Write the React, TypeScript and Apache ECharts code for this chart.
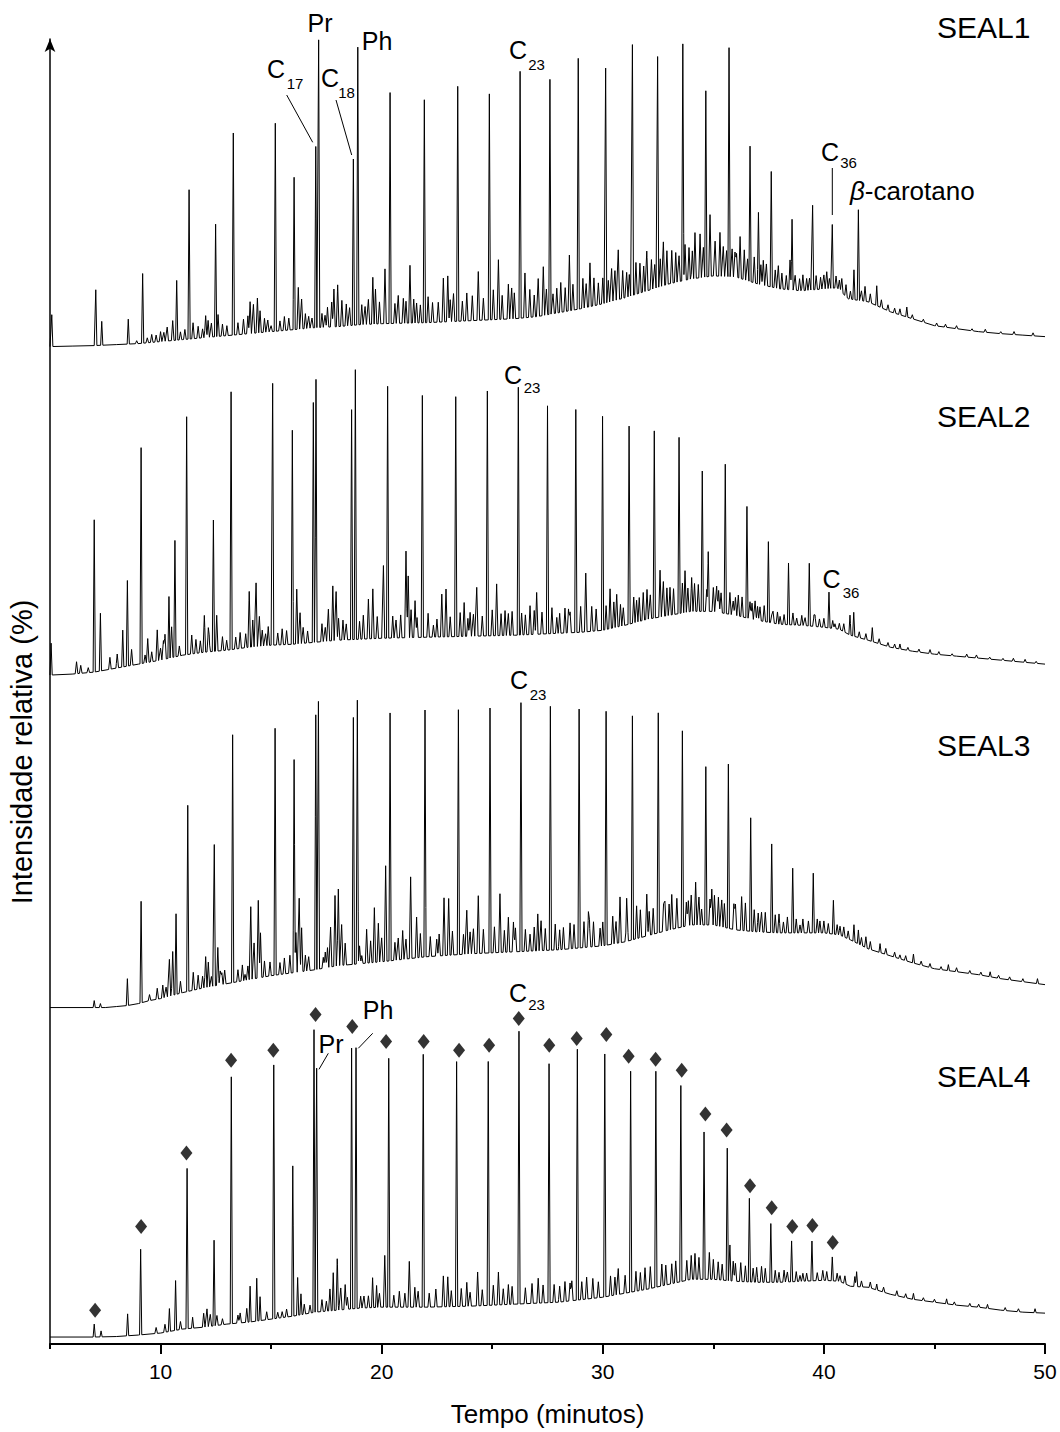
import React, { useEffect, useRef } from "react";
import * as echarts from "echarts";

const FONT = "'Liberation Sans', Arial, Helvetica, sans-serif";

// ---------- axis ----------
const xMin = 5;
const xMax = 50;
const majorTicks = [10, 20, 30, 40, 50];
const minorTicks = [5, 15, 25, 35, 45];

// ---------- traces (time in minutes, intensity in arbitrary units) ----------
const traceNames = ["SEAL1", "SEAL2", "SEAL3", "SEAL4"];
const traceOffsets = [1002, 672, 338, 7];

// SEAL1
const seal1Baseline = [
  [5, 0], [6, 0.5], [7, 1], [8, 2], [9, 3], [10, 5], [11, 7], [12, 9], [13, 11], [14, 13], [15, 15],
  [16, 17], [17, 19], [18, 20], [19, 22], [20, 23], [22, 24], [24, 26], [26, 28], [27, 30], [28, 34],
  [29, 38], [30, 43], [31, 49], [32, 56], [33, 63], [34, 68], [35, 71], [36, 70], [37, 63], [38, 58],
  [39, 56], [40, 58], [40.6, 59], [41.1, 48], [42, 45], [43, 35], [44, 28], [45, 21], [46, 18], [47, 15],
  [48, 13], [49, 11.5], [50, 10],
];
const seal1Peaks = [
  [5.08, 32], [7.07, 56], [7.34, 24], [8.54, 25], [9.19, 70], [10.73, 60], [11.29, 150], [12.49, 113],
  [13.29, 203], [15.19, 209], [16.04, 153], [17.02, 182], [17.15, 289], [18.72, 167], [18.92, 279],
  [20.38, 232], [21.93, 224], [23.44, 236], [24.87, 227], [26.26, 248], [27.61, 236], [28.89, 252],
  [30.13, 236], [31.34, 252], [32.48, 232], [33.62, 238], [34.66, 187], [35.71, 230], [36.66, 136],
  [37.04, 72], [37.62, 116], [38.56, 71], [39.49, 85], [40.38, 64], [41.36, 30], [41.56, 91],
  [42.39, 20], [43.75, 10],
];
const seal1Noise = [
  [8.92, 3], [9.6, 8], [10.0, 10], [10.3, 14], [10.55, 20], [11.47, 16], [12.04, 22], [12.15, 17],
  [12.6, 22], [12.8, 12], [14.05, 32], [14.2, 29], [14.38, 35], [14.5, 22], [15.0, 6], [16.23, 42],
  [16.38, 30], [17.44, 12], [17.74, 25], [17.84, 38], [18.01, 42], [18.2, 26], [19.25, 18], [19.6, 47],
  [19.72, 35], [20.15, 55], [20.98, 25], [21.28, 58], [21.58, 20], [22.56, 20], [22.79, 44], [22.99, 46],
  [23.85, 28], [24.37, 49], [25.28, 60], [25.73, 35], [25.88, 31], [26.48, 45], [27.08, 38], [27.31, 49],
  [27.92, 25], [28.49, 56], [29.42, 44], [29.8, 22], [30.4, 33], [30.7, 50], [31.08, 25], [31.68, 30],
  [31.99, 40], [32.74, 44], [33.12, 33], [33.72, 36], [34.17, 46], [34.4, 44], [34.85, 62], [35.08, 35],
  [35.3, 44], [35.98, 25], [36.21, 42], [37.26, 25], [37.94, 23], [38.47, 30], [39.22, 12], [40.13, 17],
  [40.81, 14], [41.86, 15], [43.44, 6], [45.1, 3], [49.46, 3],
];
const seal1Grass = [
  [9.4, 5], [9.8, 7], [10.15, 9], [10.9, 8], [11.1, 10], [11.7, 12], [11.9, 9], [12.3, 14], [13.0, 10],
  [13.5, 12], [13.75, 15], [13.95, 18], [14.7, 14], [14.85, 12], [15.4, 10], [15.6, 14], [15.8, 12],
  [16.55, 15], [16.7, 12], [16.85, 10], [17.3, 14], [17.55, 20], [18.4, 22], [18.55, 18], [19.1, 20],
  [19.4, 25], [19.9, 22], [20.6, 20], [20.75, 28], [21.1, 22], [21.45, 24], [21.75, 18], [22.1, 26],
  [22.3, 20], [23.1, 22], [23.25, 28], [23.65, 20], [24.1, 25], [24.6, 22], [25.05, 30], [25.45, 24],
  [26.0, 26], [26.7, 28], [26.9, 22], [27.45, 26], [27.75, 20], [28.1, 30], [28.3, 24], [28.65, 26],
  [29.1, 30], [29.25, 24], [29.6, 28], [30.0, 26], [30.25, 22], [30.55, 30], [30.9, 28], [31.2, 22],
  [31.5, 32], [31.85, 26], [32.2, 30], [32.35, 24], [32.6, 28], [32.9, 34], [33.3, 30], [33.45, 26],
  [33.9, 32], [34.05, 28], [34.55, 30], [35.45, 30], [35.6, 26], [35.85, 28], [36.05, 24], [36.4, 30],
  [36.55, 22], [36.85, 26], [37.15, 20], [37.4, 22], [37.8, 18], [38.1, 16], [38.3, 14], [38.7, 15],
  [38.9, 12], [39.05, 16], [39.35, 12], [39.65, 14], [39.85, 12], [40.0, 14], [40.25, 10], [40.55, 12],
  [40.7, 10], [41.0, 12], [41.2, 8], [41.7, 10], [42.1, 9], [42.6, 8], [42.9, 6], [43.2, 5], [44.0, 4],
  [44.5, 3], [45.5, 3], [46.0, 3], [46.7, 2], [47.3, 3], [48.0, 2], [48.6, 3],
];

// SEAL2
const seal2Baseline = [
  [5, 0], [6, 1], [7, 3], [8, 7], [9, 11], [10, 15], [11, 20], [12, 23], [13, 25], [14, 28], [15, 30],
  [16, 31], [17, 33], [18, 35], [19, 36], [20, 37], [22, 38], [24, 39], [26, 40], [28, 42], [29, 43],
  [30, 45], [31, 50], [32, 56], [33, 60], [34, 64], [35, 64], [36, 60], [37, 55], [38, 51], [39, 50],
  [40, 48], [40.7, 46], [41.2, 40], [42, 35], [43, 28], [44, 24], [45, 21], [46, 19], [47, 17], [48, 15],
  [49, 13], [50, 11],
];
const seal2Peaks = [
  [5.05, 32], [7.0, 153], [7.28, 58], [8.29, 37], [8.5, 86], [9.12, 217], [10.38, 62], [10.65, 117],
  [11.18, 239], [12.39, 132], [13.19, 259], [15.07, 263], [15.96, 215], [16.91, 241], [17.03, 264],
  [18.64, 231], [18.81, 271], [20.27, 253], [21.84, 243], [23.35, 241], [24.78, 246], [26.18, 249],
  [27.5, 229], [28.78, 224], [29.99, 215], [31.19, 199], [32.33, 188], [33.45, 177], [34.5, 141],
  [34.77, 60], [35.54, 150], [36.52, 112], [37.49, 81], [38.4, 62], [39.34, 63], [40.23, 36],
  [41.18, 20], [41.35, 24], [42.19, 14], [43.44, 5],
];
const seal2Noise = [
  [6.2, 12], [6.39, 8], [6.73, 5], [7.71, 12], [8.04, 14], [8.69, 16], [9.42, 24], [9.85, 31], [10.13, 19],
  [10.2, 25], [10.5, 31], [11.41, 19], [11.98, 37], [12.16, 21], [12.54, 36], [12.99, 10], [14.01, 56],
  [14.17, 27], [14.32, 64], [14.47, 30], [14.87, 19], [16.16, 55], [16.31, 31], [17.59, 32], [17.79, 55],
  [17.94, 49], [18.05, 22], [19.17, 24], [19.4, 40], [19.6, 50], [20.08, 73], [20.86, 23], [21.1, 87],
  [21.2, 62], [21.33, 28], [21.51, 37], [22.34, 12], [22.72, 43], [22.91, 48], [23.73, 34], [24.0, 24],
  [24.3, 49], [25.2, 52], [25.58, 25], [25.73, 22], [26.33, 22], [26.71, 29], [27.01, 42], [27.92, 16],
  [28.29, 25], [28.52, 21], [29.23, 59], [29.5, 25], [30.33, 40], [30.63, 33], [30.93, 18], [31.53, 22],
  [31.83, 28], [32.59, 47], [32.74, 35], [33.04, 28], [33.72, 42], [34.02, 34], [34.32, 27], [35.0, 24],
  [35.24, 22], [35.9, 14], [36.13, 21], [36.66, 17], [36.89, 19], [37.11, 14], [37.64, 8], [38.02, 8],
  [38.77, 7], [39.6, 10], [40.5, 5], [44.8, 4], [46.46, 3], [46.9, 3], [48.57, 3], [49.1, 3],
];
const seal2Grass = [
  [9.3, 8], [9.6, 10], [10.0, 12], [10.85, 10], [11.6, 14], [11.8, 12], [12.2, 10], [12.8, 14], [13.4, 12],
  [13.6, 16], [13.85, 14], [14.6, 16], [14.75, 12], [15.3, 12], [15.5, 16], [15.7, 14], [16.45, 16],
  [16.65, 12], [17.3, 18], [17.45, 14], [18.25, 20], [18.4, 16], [19.0, 18], [19.8, 22], [20.5, 22],
  [20.65, 18], [21.6, 20], [22.1, 24], [22.5, 18], [23.1, 20], [23.55, 24], [23.9, 18], [24.15, 22],
  [24.55, 20], [25.0, 26], [25.4, 22], [25.9, 24], [26.5, 20], [26.9, 24], [27.25, 22], [27.7, 26],
  [28.05, 20], [28.45, 24], [29.0, 26], [29.7, 22], [30.15, 24], [30.5, 26], [30.8, 22], [31.4, 26],
  [31.65, 24], [32.0, 30], [32.15, 24], [32.9, 28], [33.2, 26], [33.6, 30], [33.85, 24], [34.15, 28],
  [34.7, 22], [35.15, 26], [35.35, 20], [35.75, 22], [36.0, 18], [36.3, 20], [36.75, 16], [37.0, 14],
  [37.3, 16], [37.7, 12], [37.9, 12], [38.2, 10], [38.6, 12], [39.0, 10], [39.15, 8], [39.55, 10],
  [39.8, 8], [40.0, 9], [40.4, 8], [40.7, 6], [40.9, 8], [41.6, 6], [41.9, 6], [42.5, 5], [42.9, 4],
  [43.2, 4], [43.8, 3], [44.3, 3], [45.2, 3], [45.8, 2], [47.5, 2], [48.1, 2], [49.6, 2],
];

// SEAL3
const seal3Baseline = [
  [5, 0], [7.5, 0], [8, 1], [8.5, 2], [9, 4], [9.5, 7], [10, 9], [10.5, 12], [11, 15], [12, 20], [13, 24],
  [14, 28], [15, 32], [16, 35], [17, 38], [18, 42], [19, 44], [20, 46], [22, 51], [24, 54], [26, 56],
  [28, 58], [30, 62], [31, 66], [32, 72], [33, 78], [34, 83], [35, 83], [36, 78], [37, 76], [38, 75],
  [39, 75], [40, 75], [40.7, 73], [41.2, 68], [42, 59], [43, 52], [44, 45], [45, 39], [46, 36], [47, 33],
  [48, 29], [49, 26], [50, 23],
];
const seal3Peaks = [
  [7.0, 7], [7.28, 4], [8.5, 27], [9.12, 102], [10.7, 81], [11.23, 187], [12.43, 142], [13.26, 249],
  [15.18, 248], [16.04, 214], [17.02, 256], [17.14, 269], [18.72, 248], [18.9, 265], [20.38, 249],
  [21.96, 248], [23.47, 246], [24.9, 246], [26.3, 250], [27.63, 245], [28.93, 240], [30.15, 235],
  [31.34, 225], [32.51, 221], [33.6, 197], [34.66, 159], [35.68, 165], [36.69, 114], [37.64, 89],
  [38.59, 65], [39.52, 60], [40.43, 34], [41.36, 17], [41.56, 14], [42.54, 9], [44.05, 9], [45.63, 6],
  [47.52, 5], [49.66, 5],
];
const seal3Noise = [
  [9.85, 11], [10.1, 13], [10.4, 37], [10.55, 44], [11.48, 18], [12.04, 31], [12.16, 25], [12.59, 38],
  [12.77, 12], [12.9, 14], [13.82, 6], [14.08, 73], [14.23, 36], [14.42, 78], [14.52, 45], [14.95, 14],
  [15.85, 18], [16.12, 40], [16.27, 74], [16.38, 44], [17.36, 11], [17.69, 40], [17.89, 71], [18.04, 77],
  [18.19, 41], [19.1, 8], [19.32, 34], [19.67, 55], [19.85, 39], [20.18, 96], [20.6, 18], [20.95, 29],
  [21.31, 82], [21.58, 41], [22.49, 17], [22.82, 58], [23.03, 57], [23.85, 44], [24.15, 25], [24.37, 58],
  [25.35, 59], [25.73, 35], [25.96, 30], [26.71, 17], [27.06, 37], [27.21, 30], [28.22, 22], [28.52, 26],
  [29.35, 32], [29.58, 25], [29.88, 18], [30.78, 46], [31.08, 26], [31.53, 33], [31.99, 42], [32.28, 26],
  [32.81, 30], [33.12, 35], [33.87, 25], [34.2, 43], [34.47, 16], [34.93, 36], [35.23, 29], [35.38, 27],
  [35.93, 26], [36.28, 34], [37.03, 19], [37.18, 20], [37.97, 19], [38.17, 11], [38.92, 8], [39.82, 12],
  [40.2, 10], [40.73, 9], [41.9, 11], [43.44, 4],
];
const seal3Grass = [
  [9.5, 6], [10.25, 10], [10.9, 12], [11.7, 14], [11.9, 12], [12.3, 10], [12.7, 14], [13.5, 12], [13.7, 16],
  [13.95, 14], [14.7, 16], [15.4, 12], [15.6, 16], [16.55, 16], [16.7, 14], [17.45, 16], [17.55, 20],
  [18.35, 22], [19.0, 18], [19.5, 22], [20.0, 24], [20.75, 22], [21.1, 20], [21.75, 24], [22.2, 20],
  [22.6, 22], [23.2, 24], [23.7, 20], [24.0, 22], [24.6, 24], [25.1, 26], [25.55, 22], [26.05, 24],
  [26.5, 22], [26.9, 24], [27.4, 22], [27.85, 26], [28.05, 20], [28.7, 24], [29.15, 26], [29.4, 22],
  [30.0, 24], [30.45, 28], [30.6, 22], [31.1, 26], [31.7, 28], [32.1, 24], [32.75, 28], [33.0, 26],
  [33.35, 30], [33.78, 24], [34.0, 30], [34.35, 28], [34.85, 26], [35.05, 30], [35.5, 24], [36.0, 26],
  [36.45, 28], [36.85, 22], [37.35, 20], [37.8, 18], [38.35, 16], [38.75, 14], [39.05, 14], [39.3, 12],
  [39.7, 14], [40.0, 12], [40.6, 10], [40.9, 10], [41.1, 8], [41.7, 8], [42.1, 8], [42.8, 6], [43.2, 5],
  [43.7, 5], [44.4, 4], [44.8, 4], [45.3, 3], [46.0, 4], [46.6, 3], [47.1, 3], [47.9, 3], [48.4, 3],
  [49.0, 3],
];

// SEAL4
const seal4Baseline = [
  [5, 0], [7, 0], [8, 0.5], [9, 2], [10, 4], [11, 8], [12, 10], [13, 13], [14, 15], [15, 18], [16, 21],
  [17, 25], [18, 27], [19, 29], [20, 30], [22, 30], [24, 31], [26, 33], [28, 35], [30, 40], [31, 44],
  [32, 48], [33, 53], [34, 58], [35, 58], [36, 56], [37, 55], [38, 55], [39, 56], [40, 57], [40.7, 56],
  [41.2, 51], [42, 50], [43, 43], [44, 38], [45, 35], [46, 32], [47, 30], [48, 27], [49, 25], [50, 24],
];
const seal4Peaks = [
  [7.0, 13], [7.31, 6], [8.51, 22], [9.1, 86], [10.4, 23], [10.68, 50], [11.2, 161], [11.45, 11],
  [12.42, 86], [13.2, 248], [14.05, 36], [14.35, 43], [14.5, 24], [15.12, 255], [15.98, 151], [16.2, 38],
  [16.35, 21], [16.94, 284], [17.06, 245], [17.81, 38], [17.99, 40], [18.64, 262], [18.84, 262],
  [19.59, 30], [19.77, 22], [20.32, 250], [21.88, 254], [23.39, 246], [24.82, 245], [26.21, 274],
  [27.57, 240], [28.85, 252], [30.09, 244], [31.26, 222], [32.4, 217], [33.53, 197], [34.58, 148],
  [35.63, 133], [35.75, 36], [36.63, 84], [37.6, 59], [38.54, 41], [39.46, 40], [40.38, 24], [41.4, 10],
  [41.48, 15], [42.39, 6], [44.05, 6], [45.55, 5], [47.4, 4], [49.55, 4],
];
const seal4Noise = [
  [9.8, 6], [10.2, 8], [10.9, 8], [11.95, 14], [12.1, 18], [12.25, 12], [12.55, 10], [13.6, 10],
  [13.9, 14], [15.5, 6], [16.76, 8], [17.66, 22], [18.15, 22], [18.35, 25], [19.2, 12], [19.4, 12],
  [20.14, 52], [21.25, 46], [21.5, 20], [22.79, 31], [22.99, 30], [23.85, 24], [24.34, 34], [25.28, 33],
  [25.73, 20], [27.08, 25], [28.29, 20], [28.52, 18], [29.27, 22], [30.7, 26], [31.01, 18], [31.91, 22],
  [32.67, 22], [33.12, 20], [34.17, 26], [34.82, 27], [35.22, 18], [35.9, 20], [36.24, 19], [36.96, 15],
  [37.18, 16], [37.97, 10], [38.2, 12], [38.92, 6], [39.22, 8], [40.13, 9], [40.73, 6],
];
const seal4Grass = [
  [12.8, 6], [13.5, 8], [14.8, 8], [15.3, 6], [15.7, 8], [16.5, 10], [17.3, 12], [17.5, 10], [18.0, 14],
  [18.45, 12], [19.05, 12], [19.9, 14], [20.55, 12], [20.8, 16], [21.05, 14], [21.65, 16], [22.15, 14],
  [22.45, 18], [23.15, 16], [23.6, 18], [24.0, 14], [24.55, 16], [25.05, 20], [25.5, 16], [25.9, 18],
  [26.5, 16], [26.8, 20], [27.3, 18], [27.8, 18], [28.05, 16], [28.6, 20], [29.05, 18], [29.55, 20],
  [29.8, 16], [30.35, 20], [30.55, 18], [31.5, 20], [31.7, 18], [32.15, 22], [32.85, 20], [33.3, 22],
  [33.8, 20], [34.0, 24], [34.35, 22], [35.0, 20], [35.4, 16], [36.0, 18], [36.45, 16], [36.8, 14],
  [37.35, 14], [37.8, 12], [38.35, 10], [38.75, 10], [39.05, 8], [39.7, 8], [39.95, 10], [40.6, 8],
  [40.95, 8], [41.7, 6], [42.1, 6], [42.7, 5], [43.3, 5], [43.7, 4], [44.5, 3], [45.0, 3], [45.9, 3],
  [46.6, 3], [47.0, 3], [48.2, 3], [48.8, 3],
];
// n-alkane markers (diamonds) above SEAL4 peaks
const seal4Diamonds = [
  [7.04, 27], [9.12, 111], [11.17, 185], [13.19, 278], [15.1, 288], [17.01, 324], [18.67, 312],
  [20.2, 297], [21.9, 297], [23.5, 288], [24.86, 293], [26.2, 320], [27.58, 293], [28.82, 300],
  [30.16, 304], [31.17, 282], [32.39, 279], [33.57, 268], [34.64, 224], [35.6, 208], [36.66, 152],
  [37.64, 130], [38.57, 111], [39.48, 112], [40.4, 95],
];

const traceBaselines = [seal1Baseline, seal2Baseline, seal3Baseline, seal4Baseline];
const tracePeaks = [seal1Peaks, seal2Peaks, seal3Peaks, seal4Peaks];
const traceNoise = [seal1Noise, seal2Noise, seal3Noise, seal4Noise];
const traceGrass = [seal1Grass, seal2Grass, seal3Grass, seal4Grass];

const PEAK_HALF_WIDTH = 0.05;
const NOISE_HALF_WIDTH = 0.06;

function baselineAt(base: number[][], t: number): number {
  if (t <= base[0][0]) return base[0][1];
  for (let i = 1; i < base.length; i++) {
    if (t <= base[i][0]) {
      const [t0, v0] = base[i - 1];
      const [t1, v1] = base[i];
      return v0 + ((v1 - v0) * (t - t0)) / (t1 - t0);
    }
  }
  return base[base.length - 1][1];
}

function buildTrace(base: number[][], peaks: number[][], noise: number[][], offset: number) {
  const pk = [
    ...peaks.map((p) => [p[0], p[1], PEAK_HALF_WIDTH]),
    ...noise.map((p) => [p[0], p[1], NOISE_HALF_WIDTH]),
  ];
  const xs = new Set<number>();
  base.forEach((b) => xs.add(b[0]));
  pk.forEach(([t, , w]) => {
    xs.add(+(t - w).toFixed(4));
    xs.add(t);
    xs.add(+(t + w).toFixed(4));
  });
  const sorted = Array.from(xs)
    .filter((x) => x >= xMin && x <= xMax)
    .sort((a, b) => a - b);
  return sorted.map((x) => {
    let y = baselineAt(base, x);
    for (const [t, h, w] of pk) {
      const d = Math.abs(x - t);
      if (d < w) y += h * (1 - d / w);
    }
    return [x, offset + y];
  });
}

// ---------- annotation texts (layout) ----------
type Ann = { x: number; y: number; text: string; size: number };
const annotations: Ann[] = [
  // SEAL1
  { x: 320, y: 23, text: "Pr", size: 25 },
  { x: 377, y: 41, text: "Ph", size: 25 },
  { x: 276, y: 69, text: "C", size: 25 },
  { x: 295, y: 83, text: "17", size: 15 },
  { x: 330, y: 77.5, text: "C", size: 25 },
  { x: 346.5, y: 92.5, text: "18", size: 15 },
  { x: 518, y: 50, text: "C", size: 25 },
  { x: 536.5, y: 64, text: "23", size: 15 },
  { x: 830, y: 151.5, text: "C", size: 25 },
  { x: 848.5, y: 162.5, text: "36", size: 15 },
  // SEAL2
  { x: 513, y: 375, text: "C", size: 25 },
  { x: 532, y: 387, text: "23", size: 15 },
  { x: 831.5, y: 579, text: "C", size: 25 },
  { x: 851, y: 592.5, text: "36", size: 15 },
  // SEAL3
  { x: 519, y: 680, text: "C", size: 25 },
  { x: 538, y: 694, text: "23", size: 15 },
  // SEAL4
  { x: 518, y: 992.5, text: "C", size: 25 },
  { x: 536.5, y: 1004, text: "23", size: 15 },
  { x: 331, y: 1044, text: "Pr", size: 25 },
  { x: 378, y: 1010, text: "Ph", size: 25 },
];
const traceLabelPos = [27.5, 416.5, 745, 1076];
const leaderLines = [
  [286.7, 95, 312.7, 142.3],
  [336, 100, 351.7, 155],
  [832.3, 168, 832.3, 215],
  [328.3, 1053.3, 319, 1069.3],
  [372.7, 1033.3, 358.3, 1048.3],
];

export default function App() {
  const ref = useRef<HTMLDivElement>(null);

  useEffect(() => {
    if (!ref.current) return;
    const chart = echarts.init(ref.current, undefined, { renderer: "svg" });

    const lineSeries = traceNames.map((name, i) => ({
      name,
      type: "line",
      data: buildTrace(
        traceBaselines[i],
        tracePeaks[i],
        [...traceNoise[i], ...traceGrass[i]],
        traceOffsets[i]
      ),
      showSymbol: false,
      symbol: "none",
      lineStyle: { color: "#000", width: 1 },
      silent: true,
      clip: false,
      z: 2,
    }));

    const diamondSeries = {
      name: "n-alcanos",
      type: "scatter",
      data: seal4Diamonds.map(([t, v]) => [t, traceOffsets[3] + v]),
      symbol: "diamond",
      symbolSize: [12, 15],
      itemStyle: { color: "#000" },
      silent: true,
      clip: false,
      z: 3,
    };

    const graphic: any[] = [];
    annotations.forEach((a) => {
      graphic.push({
        type: "text",
        x: a.x,
        y: a.y,
        style: {
          text: a.text,
          fontSize: a.size,
          fontFamily: FONT,
          fill: "#000",
          align: "center",
          verticalAlign: "middle",
        },
      });
    });
    traceNames.forEach((n, i) => {
      graphic.push({
        type: "text",
        x: 937,
        y: traceLabelPos[i],
        style: {
          text: n,
          fontSize: 30,
          fontFamily: FONT,
          fill: "#000",
          align: "left",
          verticalAlign: "middle",
        },
      });
    });
    graphic.push({
      type: "text",
      x: 850,
      y: 190.7,
      style: {
        text: "{i|β}-carotano",
        fontSize: 26,
        fontFamily: FONT,
        fill: "#000",
        align: "left",
        verticalAlign: "middle",
        rich: { i: { fontStyle: "italic", fontSize: 26, fontFamily: FONT, fill: "#000" } },
      },
    });
    leaderLines.forEach(([x1, y1, x2, y2]) => {
      graphic.push({
        type: "line",
        shape: { x1, y1, x2, y2 },
        style: { stroke: "#000", lineWidth: 1 },
      });
    });
    graphic.push({
      type: "text",
      x: 22,
      y: 752,
      rotation: Math.PI / 2,
      style: {
        text: "Intensidade relativa (%)",
        fontSize: 29,
        fontFamily: FONT,
        fill: "#000",
        align: "center",
        verticalAlign: "middle",
      },
    });

    const option: any = {
      animation: false,
      backgroundColor: "#ffffff",
      grid: { left: 50, right: 15, top: 39, bottom: 82, containLabel: false },
      xAxis: [
        {
          type: "value",
          min: xMin,
          max: xMax,
          interval: 5,
          position: "bottom",
          axisLine: { show: true, onZero: false, lineStyle: { color: "#000", width: 2 } },
          axisTick: { show: true, customValues: majorTicks, length: 10, lineStyle: { color: "#000", width: 2 } },
          axisLabel: {
            customValues: majorTicks,
            margin: 17,
            fontSize: 21,
            color: "#000",
            fontFamily: FONT,
            formatter: (v: number) => (v % 10 === 0 ? String(v) : ""),
          },
          splitLine: { show: false },
          name: "Tempo (minutos)",
          nameLocation: "middle",
          nameGap: 57,
          nameTextStyle: { fontSize: 26, color: "#000", fontFamily: FONT },
        },
        {
          type: "value",
          min: xMin,
          max: xMax,
          interval: 5,
          position: "bottom",
          axisLine: { show: false, onZero: false },
          axisTick: { show: true, customValues: minorTicks, length: 5, lineStyle: { color: "#000", width: 2 } },
          axisLabel: { show: false },
          splitLine: { show: false },
        },
      ],
      yAxis: {
        type: "value",
        min: 0,
        max: 1311,
        axisLine: {
          show: true,
          lineStyle: { color: "#000", width: 1.5 },
          symbol: ["none", "arrow"],
          symbolSize: [8, 13],
        },
        axisTick: { show: false },
        axisLabel: { show: false },
        splitLine: { show: false },
      },
      series: [...lineSeries, diamondSeries],
      graphic,
    };

    chart.setOption(option);
    return () => chart.dispose();
  }, []);

  return (
    <div
      ref={ref}
      style={{ position: "absolute", left: 0, top: 0, width: 1060, height: 1432, background: "#fff" }}
    />
  );
}
